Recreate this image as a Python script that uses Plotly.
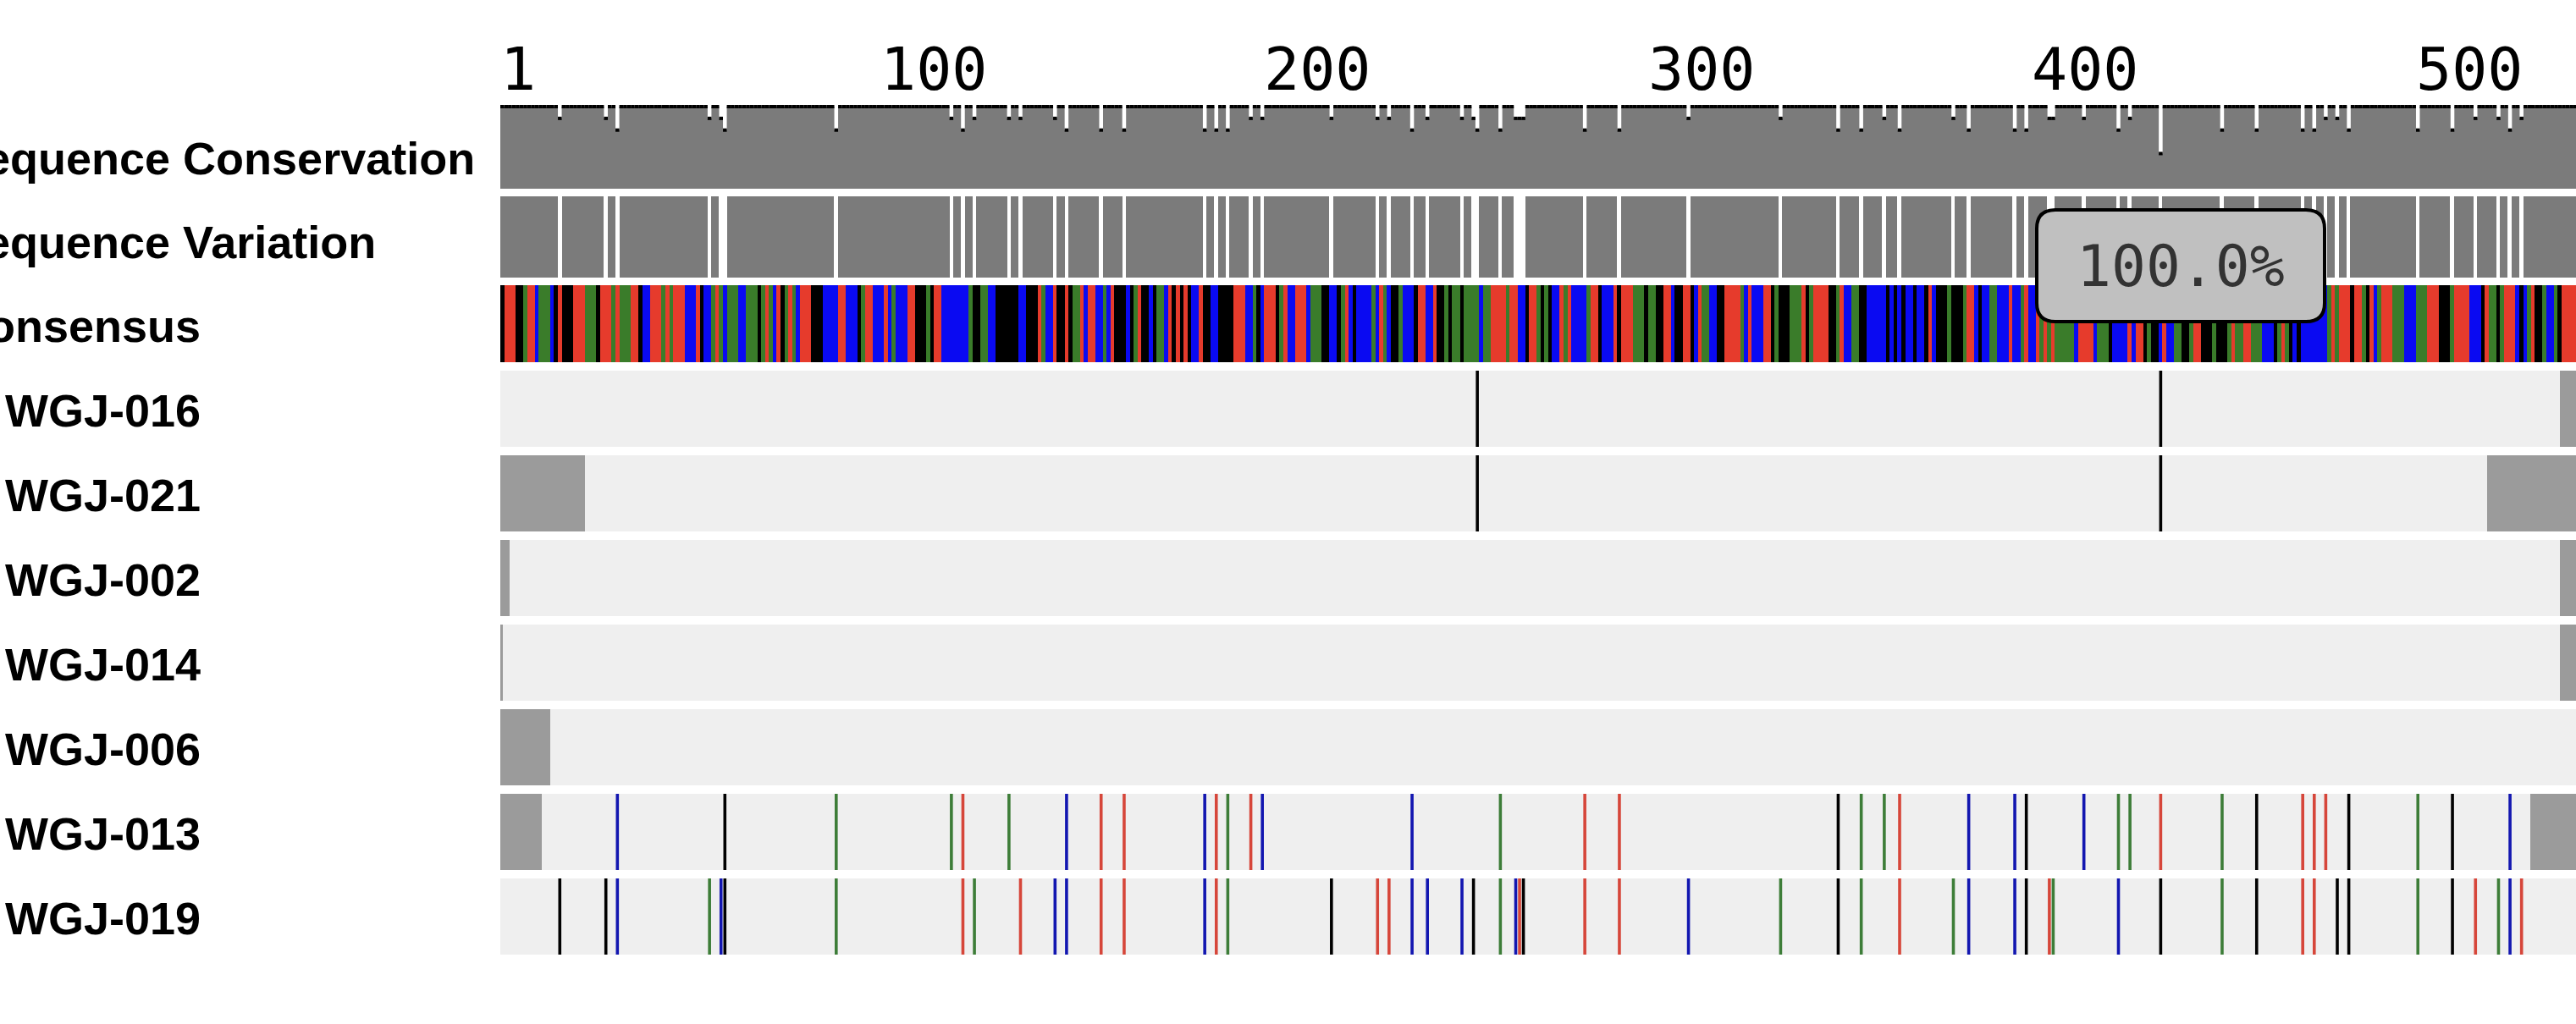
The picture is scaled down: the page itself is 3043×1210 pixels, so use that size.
import plotly.graph_objects as go

# ---------------- data ----------------
TRACK_LABELS = ["Sequence Conservation", "Sequence Variation", "Consensus"]
SEQ_NAMES = ["WGJ-016", "WGJ-021", "WGJ-002", "WGJ-014", "WGJ-006", "WGJ-013", "WGJ-019"]
TICK_VALUES = [1, 100, 200, 300, 400, 500]
TICK_TEXT = ["1", "100", "200", "300", "400", "500"]

CONSENSUS = (
    "GTTTGGATTC" "AAACGTGGGT" "TTAAAGTTTA" "TAAATTGCCT" "TTATATTTCC"
    "CTGCCATACA" "AACCAAAGAT" "ACTGATACTT" "TGGGCCCCTT" "CCCGATTCCC"
    "TCACCCTTGG" "GAGTTCCCCC" "CCAGGAACCG" "GGGGG"
    "CCGGGTACCT" "GGTGAATCTT" "CCACTGGGCG" "ATGGCGAACT" "GTGTGCCTGG"
    "CCGGGGTTTC" "CAGCTTTGAT" "CCTTTCAAAG" "GCCGATCGCC" "CCACTACGGA"
    "CCCGTTCCTG" "GAGAAGAAAA" "CAATTTTATT" "CCGTT"
    "AGAGCCTATC" "CCCATTGCCC" "TGTTTAAAGA" "AGGTTCGGTT" "GCTAACCGGT"
    "TTTACTCCCT" "TGAGGGAAAT" "GATTTTGGAT" "CCAAGGCCCC" "CGCGCGCCGC"
    "CGTCGGGAGG" "GATTCGCCAA" "CCCTCCATCC" "TATAT"
    "AAAAACTTTT" "CAAAGCCCCT" "CTTGAGGCTC" "CAAGGATTGG" "GAGGGATAAT"
    "TAAACCCGAT" "AGCGCCCCCC" "CATATTTGTT" "AGTCATTTAA" "ACCCAAATTT"
    "GGGATTTTCC" "CGTAAGATTT" "CGCATGGACC" "AGTTTT"
)

VAR_016_POS = [255, 433]
VAR_016_BASE = "GG"
VAR_021_POS = [255, 433]
VAR_021_BASE = "GG"
VAR_002_POS = []
VAR_002_BASE = ""
VAR_014_POS = []
VAR_014_BASE = ""
VAR_006_POS = []
VAR_006_BASE = ""
VAR_013_POS = [31, 59, 88, 118, 121, 133, 148, 157, 163, 184, 187, 190, 196, 199, 238,
               261, 283, 292, 349, 355, 361, 365, 383, 395, 398, 413, 422, 425, 433, 449,
               458, 470, 473, 476, 482, 500, 509, 524]
VAR_013_BASE = "CGAATACTTCTATCCATTGAATCCGCAATAGTTTGAGC"
VAR_019_POS = [16, 28, 31, 55, 58, 59, 88, 121, 124, 136, 145, 148, 157, 163, 184,
               187, 190, 217, 229, 232, 238, 242, 251, 254, 261, 265, 266, 267, 283, 292,
               310, 334, 349, 355, 365, 379, 383, 395, 398, 404, 405, 422, 433, 449, 458,
               470, 473, 479, 482, 500, 509, 515, 521, 524, 527]
VAR_019_BASE = "GGCACGATATCCTTCTAGTTCCCGACTGTTCAGATACCGTACGAGTTGGAGTACT"

# regions without sequence data (start, end) in alignment positions
MISSING_016 = [(536.9, 541.5)]
MISSING_021 = [(0.5, 22.5), (518.0, 541.5)]
MISSING_002 = [(0.5, 3.0), (536.9, 541.5)]
MISSING_014 = [(0.5, 1.2), (536.9, 541.5)]
MISSING_006 = [(0.5, 13.5)]
MISSING_013 = [(0.5, 11.3), (529.3, 541.5)]
MISSING_019 = []

TOOLTIP_TEXT = "100.0%"

VARIANTS = {
    "WGJ-016": (VAR_016_POS, VAR_016_BASE), "WGJ-021": (VAR_021_POS, VAR_021_BASE),
    "WGJ-002": (VAR_002_POS, VAR_002_BASE), "WGJ-014": (VAR_014_POS, VAR_014_BASE),
    "WGJ-006": (VAR_006_POS, VAR_006_BASE), "WGJ-013": (VAR_013_POS, VAR_013_BASE),
    "WGJ-019": (VAR_019_POS, VAR_019_BASE),
}
MISSING = {
    "WGJ-016": MISSING_016, "WGJ-021": MISSING_021, "WGJ-002": MISSING_002,
    "WGJ-014": MISSING_014, "WGJ-006": MISSING_006, "WGJ-013": MISSING_013,
    "WGJ-019": MISSING_019,
}

# ---------------- style / geometry ----------------
W, H = 3043, 1210
PLOT_LEFT = 591
POS_PX = 4.535
X_MAX = 0.5 + (W - PLOT_LEFT) / POS_PX

BASES = "ACGT"
BASE_COLORS = {"A": "#3a7c2a", "C": "#0a0af2", "G": "#000000", "T": "#e63b2c"}
LINE_COLORS = {"A": "#3d7d38", "C": "#1216b0", "G": "#000000", "T": "#d6463a"}
TRACK_GRAY = "#7b7b7b"
ROW_BG = "#efefef"
MISSING_GRAY = "#9b9b9b"

CONS_TOP, CONS_BOTTOM = 126, 223
VAR_TOP, VAR_BOTTOM = 232, 328
CSS_TOP, CSS_BOTTOM = 337, 428
ROW0_TOP, ROW_PITCH, ROW_H = 438, 100, 90
TRACK_LABEL_Y = [187, 286, 385]
SEQ_LABEL_Y0 = 485
TRACK_LABEL_XPX = -54
SEQ_LABEL_XPX = 6
TICK_Y = 82
LABEL_FONT = "Liberation Sans, Arial, Helvetica, sans-serif"
MONO_FONT = "DejaVu Sans Mono, monospace"


def px_to_paper(px):
    return (px - PLOT_LEFT) / (W - PLOT_LEFT)


n = len(CONSENSUS)
nseq = len(SEQ_NAMES)
ndiff = [0] * (n + 2)
for name in SEQ_NAMES:
    for p in VARIANTS[name][0]:
        ndiff[p] += 1

fig = go.Figure()

# sequence rows: background
row_centers = [ROW0_TOP + i * ROW_PITCH + ROW_H / 2 for i in range(nseq)]
fig.add_trace(go.Bar(
    orientation="h", y=row_centers, x=[n] * nseq, base=[0.5] * nseq, width=ROW_H,
    marker=dict(color=ROW_BG, line=dict(width=0)), hoverinfo="skip", showlegend=False))

# missing data blocks
my, mx, mb = [], [], []
for i, name in enumerate(SEQ_NAMES):
    for s, e in MISSING[name]:
        my.append(row_centers[i]); mx.append(e - s); mb.append(s)
fig.add_trace(go.Bar(
    orientation="h", y=my, x=mx, base=mb, width=ROW_H,
    marker=dict(color=MISSING_GRAY, line=dict(width=0)), hoverinfo="skip", showlegend=False))

# variant ticks
for b in BASES:
    xs, ys = [], []
    for i, name in enumerate(SEQ_NAMES):
        pos, letters = VARIANTS[name]
        top = ROW0_TOP + i * ROW_PITCH
        for p, l in zip(pos, letters):
            if l == b:
                xs += [p, p, None]
                ys += [top, top + ROW_H, None]
    fig.add_trace(go.Scatter(x=xs, y=ys, mode="lines",
                             line=dict(color=LINE_COLORS[b], width=3.6),
                             hoverinfo="skip", showlegend=False))

# consensus heatmap
xedges = [p - 0.5 for p in range(1, n + 2)]
codes = [BASES.index(c) for c in CONSENSUS]
cs = []
for k, b in enumerate(BASES):
    cs += [[k / 4, BASE_COLORS[b]], [(k + 1) / 4, BASE_COLORS[b]]]
fig.add_trace(go.Heatmap(
    z=[codes], x=xedges, y=[CSS_TOP, CSS_BOTTOM], zmin=-0.5, zmax=3.5,
    colorscale=cs, showscale=False, hoverinfo="skip", zsmooth=False))

# variation track
varz = [1 if ndiff[p] == 0 else None for p in range(1, n + 1)]
fig.add_trace(go.Heatmap(
    z=[varz], x=xedges, y=[VAR_TOP, VAR_BOTTOM], zmin=0, zmax=1,
    colorscale=[[0, TRACK_GRAY], [1, TRACK_GRAY]], showscale=False,
    hoverinfo="skip", zsmooth=False))

# conservation track
hspan = CONS_BOTTOM - CONS_TOP
px_, py_ = [0.5], [CONS_BOTTOM]
cx, cy = [], []
for p in range(1, n + 1):
    lvl = CONS_TOP + ndiff[p] / nseq * hspan
    px_ += [p - 0.5, p + 0.5]
    py_ += [lvl, lvl]
    cx += [p - 0.5, p + 0.5, None]
    cy += [lvl, lvl, None]
px_.append(n + 0.5); py_.append(CONS_BOTTOM)
fig.add_trace(go.Scatter(x=px_, y=py_, mode="lines", fill="toself", fillcolor=TRACK_GRAY,
                         line=dict(width=0), hoverinfo="skip", showlegend=False))
fig.add_trace(go.Scatter(x=cx, y=cy, mode="lines", line=dict(color="black", width=4),
                         hoverinfo="skip", showlegend=False))

annotations = []
for v, t in zip(TICK_VALUES, TICK_TEXT):
    annotations.append(dict(x=v - 0.5, y=TICK_Y, xref="x", yref="y", text=t, showarrow=False,
                            xanchor="left", yanchor="middle", borderpad=0, borderwidth=0,
                            font=dict(family=MONO_FONT, size=70, color="black")))
for t, y in zip(TRACK_LABELS, TRACK_LABEL_Y):
    annotations.append(dict(x=px_to_paper(TRACK_LABEL_XPX), y=y, xref="paper", yref="y", text=t,
                            showarrow=False, xanchor="left", yanchor="middle", borderpad=0,
                            borderwidth=0,
                            font=dict(family=LABEL_FONT, size=54, color="black", weight="bold")))
for i, name in enumerate(SEQ_NAMES):
    annotations.append(dict(x=px_to_paper(SEQ_LABEL_XPX), y=SEQ_LABEL_Y0 + i * ROW_PITCH,
                            xref="paper", yref="y", text=name, showarrow=False, xanchor="left",
                            yanchor="middle", borderpad=0, borderwidth=0,
                            font=dict(family=LABEL_FONT, size=54, color="black", weight="bold")))

# tooltip box
TT_X0, TT_X1, TT_Y0, TT_Y1, TT_R = 2406, 2746, 248, 380, 22
x0, x1 = px_to_paper(TT_X0), px_to_paper(TT_X1)
rx = TT_R / (W - PLOT_LEFT)
y0, y1, ry = TT_Y0, TT_Y1, TT_R
path = (f"M {x0+rx},{y0} L {x1-rx},{y0} Q {x1},{y0} {x1},{y0+ry} L {x1},{y1-ry} "
        f"Q {x1},{y1} {x1-rx},{y1} L {x0+rx},{y1} Q {x0},{y1} {x0},{y1-ry} "
        f"L {x0},{y0+ry} Q {x0},{y0} {x0+rx},{y0} Z")
shapes = [dict(type="path", path=path, xref="paper", yref="y", fillcolor="#c0c0c0",
               line=dict(color="black", width=4), layer="above")]
annotations.append(dict(x=(x0 + x1) / 2, y=(y0 + y1) / 2, xref="paper", yref="y",
                        text=TOOLTIP_TEXT, showarrow=False, xanchor="center", yanchor="middle",
                        font=dict(family=MONO_FONT, size=68, color="#333333")))

fig.update_layout(
    width=W, height=H, autosize=False,
    margin=dict(l=PLOT_LEFT, r=0, t=0, b=0, pad=0),
    paper_bgcolor="white", plot_bgcolor="white",
    barmode="overlay", bargap=0, hovermode=False, showlegend=False,
    xaxis=dict(range=[0.5, X_MAX], visible=False, fixedrange=True),
    yaxis=dict(range=[H, 0], visible=False, fixedrange=True),
    annotations=annotations, shapes=shapes,
)

fig.write_html("out.html", config={"displayModeBar": False},
               post_script="document.body.style.margin='0';document.body.style.overflow='hidden';")
